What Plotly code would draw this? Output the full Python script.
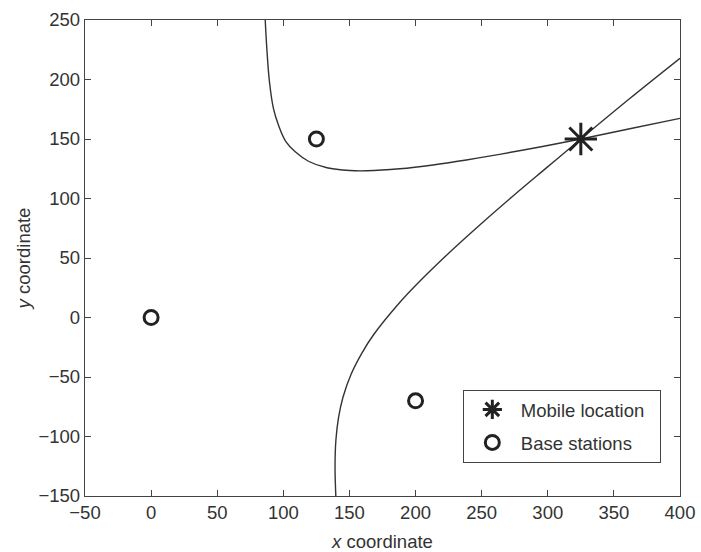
import plotly.graph_objects as go

# Base stations and mobile location
bs_x = [0, 125, 200]
bs_y = [0, 150, -70]
mobile_x = [325]
mobile_y = [150]

# Hyperbola branch 1
h1_x = [86.3, 87.5, 89.5, 92.5, 96.3, 101.8, 109.0, 119.0, 133.0, 150.4, 163.0,
        188.0, 213.2, 238.4, 263.5, 295.0, 325.0, 362.0, 400.0]
h1_y = [250.0, 226.2, 198.1, 175.7, 161.7, 148.0, 139.2, 131.3, 125.8, 123.5, 123.3,
        125.0, 128.2, 132.4, 137.1, 143.5, 150.0, 158.6, 167.3]

# Hyperbola branch 2
h2_x = [139.7, 139.1, 139.75, 141.8, 145.1, 151.4, 159.2, 168.5, 188.0, 200.0,
        225.0, 249.0, 273.5, 298.7, 325.0, 362.0, 400.0]
h2_y = [-150.0, -125.7, -103.2, -83.8, -67.0, -47.3, -30.3, -14.1, 12.6, 26.9,
        54.0, 78.2, 101.9, 125.5, 150.0, 184.0, 217.8]

x_ticks = [-50, 0, 50, 100, 150, 200, 250, 300, 350, 400]
y_ticks = [-150, -100, -50, 0, 50, 100, 150, 200, 250]

line_col = "#333333"
axis_col = "#444444"
text_col = "#333333"
font_fam = "Liberation Sans, Arial, sans-serif"
fs = 18.5
pad = "\u00a0\u00a0"

fig = go.Figure()
fig.add_trace(go.Scatter(x=h1_x, y=h1_y, mode="lines", line=dict(color=line_col, width=1.4, shape="spline"),
                         showlegend=False, hoverinfo="skip"))
fig.add_trace(go.Scatter(x=h2_x, y=h2_y, mode="lines", line=dict(color=line_col, width=1.4, shape="spline"),
                         showlegend=False, hoverinfo="skip"))
fig.add_trace(go.Scatter(x=mobile_x, y=mobile_y, mode="markers", name="Mobile location" + pad,
                         legendgroup="m",
                         marker=dict(symbol="asterisk-open", size=27, color="#222222",
                                     line=dict(color="#222222", width=3))))
fig.add_trace(go.Scatter(x=bs_x, y=bs_y, mode="markers", name="Base stations",
                         legendgroup="b",
                         marker=dict(symbol="circle-open", size=14, color="#222222",
                                     line=dict(color="#222222", width=3))))

axis_common = dict(showgrid=False, zeroline=False, showline=True, linecolor=axis_col, linewidth=1.3,
                   mirror="ticks", ticks="inside", ticklen=6, tickcolor=axis_col, tickwidth=1.2,
                   automargin=False,
                   tickfont=dict(family=font_fam, size=fs, color=text_col))

fig.update_layout(
    width=701, height=552,
    margin=dict(l=85, r=21, t=20, b=56),
    paper_bgcolor="white", plot_bgcolor="white",
    font=dict(family=font_fam, size=fs, color=text_col),
    xaxis=dict(range=[-50, 400], tickvals=x_ticks, ticktext=[str(v).replace("-", "\u2212") for v in x_ticks],
               title=dict(text="<i>x</i> coordinate", font=dict(family=font_fam, size=fs, color=text_col), standoff=14),
               **axis_common),
    yaxis=dict(range=[-150, 250], tickvals=y_ticks, ticktext=[str(v).replace("-", "\u2212") for v in y_ticks],
               title=dict(text="<i>y</i> coordinate", font=dict(family=font_fam, size=fs, color=text_col), standoff=3),
               **axis_common),
    legend=dict(x=0.635, y=0.223, xanchor="left", yanchor="top",
                bordercolor="#444444", borderwidth=1, bgcolor="white",
                font=dict(family=font_fam, size=fs, color=text_col),
                itemsizing="trace", traceorder="grouped", tracegroupgap=6,
                itemwidth=47),
    showlegend=True,
)

fig.write_html("out.html")
